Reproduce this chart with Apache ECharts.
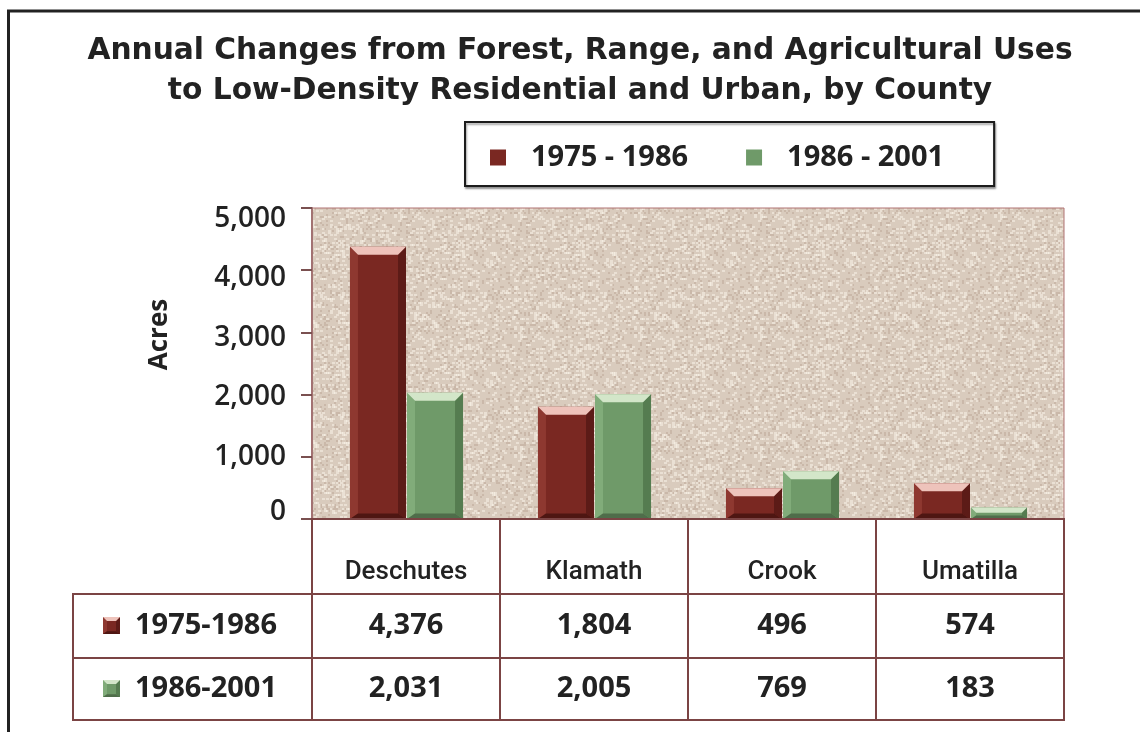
<!DOCTYPE html>
<html>
<head>
<meta charset="utf-8">
<script src="https://cdn.jsdelivr.net/npm/echarts@6/dist/echarts.min.js"></script>
<style>
  html, body { margin: 0; padding: 0; background: #fff; }
  #chart { width: 1140px; height: 732px; }
</style>
</head>
<body>
<div id="chart"></div>
<script>
// County land-use conversion, acres per year
const counties = ['Deschutes', 'Klamath', 'Crook', 'Umatilla'];
const periodNames = ['1975 - 1986', '1986 - 2001'];
const rowLabels = ['1975-1986', '1986-2001'];
const acresEarly = [4376, 1804, 496, 574];
const acresLate = [2031, 2005, 769, 183];
const yMin = 0, yMax = 5000, yStep = 1000;
// vertical nudge (px) of each tick label, keyed by tick value / 1000
const tickLabelShift = [-7, 0, 2, 6, 8, 11];

const palette = {
  early: { front: '#7a2822', left: '#8e3830', right: '#5c1b17', top: '#eec3bb', bottom: '#4e1612' },
  late:  { front: '#6f9a69', left: '#81ac7a', right: '#557c50', top: '#d3e6c9', bottom: '#4f6d4a' }
};

const fmt = v => Number(v).toLocaleString('en-US');

// Stucco-like fill for the plot area (deterministic hash speckle)
function stuccoTile() {
  const size = 120;
  const c = document.createElement('canvas');
  c.width = c.height = size;
  const g = c.getContext('2d');
  g.fillStyle = '#d9cbbd';
  g.fillRect(0, 0, size, size);
  const hash = (x, y) => {
    const s = Math.sin(x * 12.9898 + y * 78.233) * 43758.5453;
    return s - Math.floor(s);
  };
  for (let y = 0; y < size; y += 2) {
    for (let x = 0; x < size; x += 2) {
      const h = hash(x, y);
      if (h < 0.18) { g.fillStyle = 'rgba(255,250,240,0.45)'; g.fillRect(x, y, 3, 2); }
      else if (h > 0.86) { g.fillStyle = 'rgba(150,120,100,0.22)'; g.fillRect(x, y, 2, 2); }
    }
  }
  return c;
}

// Beveled box: front face framed by four sloped faces
function bevelBox(x, y, w, h, c, bMax) {
  const b = Math.max(0, Math.min(bMax, w / 4, h / 2.2));
  const bb = b * 0.7;
  const poly = (pts, fill) => ({ type: 'polygon', shape: { points: pts }, style: { fill: fill } });
  return [
    { type: 'rect', shape: { x: x, y: y, width: w, height: h }, style: { fill: c.front } },
    poly([[x, y], [x + b, y + b], [x + b, y + h - bb], [x, y + h]], c.left),
    poly([[x + w, y], [x + w, y + h], [x + w - b, y + h - bb], [x + w - b, y + b]], c.right),
    poly([[x, y + h], [x + b, y + h - bb], [x + w - b, y + h - bb], [x + w, y + h]], c.bottom),
    poly([[x, y], [x + w, y], [x + w - b, y + b], [x + b, y + b]], c.top)
  ];
}

function barRenderer(which) {
  const colors = which === 0 ? palette.early : palette.late;
  return function (params, api) {
    const i = api.value(0), v = api.value(1);
    const base = api.coord([i, 0]);
    const top = api.coord([i, v]);
    const band = api.size([1, 0])[0];
    const w = band * 0.298;
    const x = which === 0 ? base[0] - w : base[0] + 1;
    return { type: 'group', children: bevelBox(x, top[1], w, base[1] - top[1], colors, 8) };
  };
}

// Data table under the plot: one column of cells per county
const lineStyle = { stroke: '#7b4444', lineWidth: 2, fill: null };
const valueFont = { fontFamily: 'Open Sans', fontWeight: 'bold', fontSize: 29, fill: '#222' };
const rowHeights = [75, 64, 62];
const labelColWidth = 239;

function tableRenderer(params, api) {
  const i = api.value(0);
  const base = api.coord([i, 0]);
  const band = api.size([1, 0])[0];
  const x0 = base[0] - band / 2;
  const r0 = base[1], r1 = r0 + rowHeights[0], r2 = r1 + rowHeights[1], r3 = r2 + rowHeights[2];
  const kids = [
    { type: 'rect', shape: { x: x0, y: r0, width: band, height: r1 - r0 }, style: lineStyle },
    { type: 'rect', shape: { x: x0, y: r1, width: band, height: r2 - r1 }, style: lineStyle },
    { type: 'rect', shape: { x: x0, y: r2, width: band, height: r3 - r2 }, style: lineStyle },
    { type: 'text', style: Object.assign({ text: fmt(api.value(1)), x: base[0], y: (r1 + r2) / 2, align: 'center', verticalAlign: 'middle' }, valueFont) },
    { type: 'text', style: Object.assign({ text: fmt(api.value(2)), x: base[0], y: (r2 + r3) / 2, align: 'center', verticalAlign: 'middle' }, valueFont) }
  ];
  if (i === 0) {
    const lx = x0 - labelColWidth;
    kids.push(
      { type: 'rect', shape: { x: lx, y: r1, width: labelColWidth, height: r2 - r1 }, style: lineStyle },
      { type: 'rect', shape: { x: lx, y: r2, width: labelColWidth, height: r3 - r2 }, style: lineStyle }
    );
    [[r1, r2, palette.early, rowLabels[0]], [r2, r3, palette.late, rowLabels[1]]].forEach(function (row) {
      const cy = (row[0] + row[1]) / 2;
      kids.push({ type: 'group', children: bevelBox(lx + 30, cy - 9, 17, 17, row[2], 4) });
      kids.push({ type: 'text', style: Object.assign({ text: row[3], x: lx + 62, y: cy, align: 'left', verticalAlign: 'middle' }, valueFont) });
    });
  }
  return { type: 'group', children: kids };
}

// Rich styles that nudge individual tick labels up or down
const tickFont = { fontFamily: 'Open Sans', fontWeight: 600, fontSize: 28, color: '#222' };
const tickRich = {};
tickLabelShift.forEach(function (s, k) {
  const pad = Math.abs(s) * 2;
  tickRich['t' + k] = Object.assign({ padding: s >= 0 ? [pad, 0, 0, 0] : [0, 0, pad, 0] }, tickFont);
});

const chart = echarts.init(document.getElementById('chart'), null, { renderer: 'canvas' });

chart.setOption({
  backgroundColor: '#ffffff',
  animation: false,
  title: {
    text: 'Annual Changes from Forest, Range, and Agricultural Uses\nto Low-Density Residential and Urban, by County',
    left: 580,
    textAlign: 'center',
    top: 31,
    padding: 0,
    textStyle: { fontFamily: 'DejaVu Sans', fontWeight: 'bold', fontSize: 29.7, lineHeight: 40, color: '#222' }
  },
  legend: {
    data: periodNames,
    left: 465,
    top: 122,
    padding: [21, 50, 14, 25],
    itemGap: 58,
    itemWidth: 16,
    itemHeight: 16,
    icon: 'rect',
    borderColor: '#1c1c1c',
    borderWidth: 2,
    backgroundColor: '#ffffff',
    shadowColor: 'rgba(0,0,0,0.35)',
    shadowOffsetX: 1,
    shadowOffsetY: 2,
    shadowBlur: 2,
    textStyle: { fontFamily: 'Open Sans', fontWeight: 'bold', fontSize: 29, color: '#222', padding: [0, 0, 0, 20] }
  },
  grid: {
    left: 312, right: 76, top: 208, bottom: 213,
    show: true,
    backgroundColor: { image: stuccoTile(), repeat: 'repeat' },
    borderColor: '#b07272',
    borderWidth: 1
  },
  xAxis: {
    type: 'category',
    data: counties,
    axisLine: { show: true, lineStyle: { color: '#9c4c4c', width: 2 } },
    axisTick: { show: false },
    axisLabel: { margin: 40, fontFamily: 'Roboto', fontWeight: 500, fontSize: 26, color: '#222' },
    splitLine: { show: false }
  },
  yAxis: {
    type: 'value',
    min: yMin, max: yMax, interval: yStep,
    name: 'Acres',
    nameLocation: 'middle',
    nameRotate: 90,
    nameGap: 139,
    nameTextStyle: { fontFamily: 'Open Sans', fontWeight: 'bold', fontSize: 26, color: '#222', padding: [0, 0, 0, 58] },
    axisLine: { show: true, lineStyle: { color: '#a27272', width: 2 } },
    axisTick: { show: true, length: 11, lineStyle: { color: '#7a5050', width: 2 } },
    axisLabel: Object.assign({
      margin: 26,
      formatter: v => '{t' + Math.round(v / yStep) + '|' + fmt(v) + '}',
      rich: tickRich
    }, tickFont),
    splitLine: { show: false }
  },
  series: [
    {
      name: periodNames[0],
      type: 'custom',
      itemStyle: { color: palette.early.front },
      renderItem: barRenderer(0),
      encode: { x: 0, y: 1 },
      data: acresEarly.map((v, i) => [i, v])
    },
    {
      name: periodNames[1],
      type: 'custom',
      itemStyle: { color: palette.late.front },
      renderItem: barRenderer(1),
      encode: { x: 0, y: 1 },
      data: acresLate.map((v, i) => [i, v])
    },
    {
      name: 'table',
      type: 'custom',
      clip: false,
      silent: true,
      renderItem: tableRenderer,
      encode: { x: 0, y: -1 },
      data: counties.map((c, i) => [i, acresEarly[i], acresLate[i]])
    }
  ],
  graphic: [
    {
      type: 'polyline',
      shape: { points: [[8.5, 732], [8.5, 11], [1140, 11]] },
      style: { stroke: '#222', lineWidth: 3, fill: null },
      silent: true
    }
  ]
});
</script>
</body>
</html>
